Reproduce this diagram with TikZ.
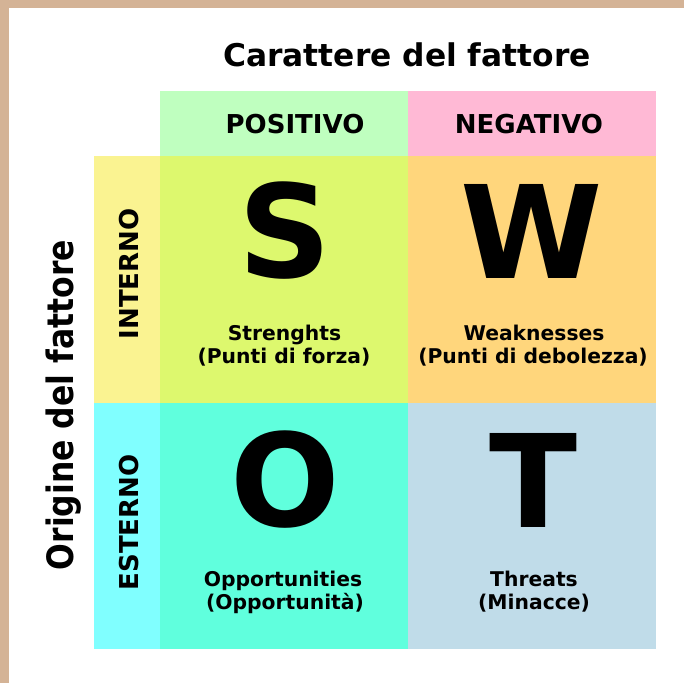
\documentclass[tikz,border=0pt]{standalone}
\usepackage{fontspec}
\setmainfont{DejaVu Sans}
\usepackage{graphicx}
\definecolor{frame}{RGB}{212,179,150}
\definecolor{cPos}{RGB}{191,255,191}
\definecolor{cNeg}{RGB}{255,185,213}
\definecolor{cInt}{RGB}{250,243,145}
\definecolor{cS}{RGB}{221,248,110}
\definecolor{cW}{RGB}{255,214,124}
\definecolor{cEst}{RGB}{128,255,255}
\definecolor{cO}{RGB}{96,255,221}
\definecolor{cT}{RGB}{192,220,233}
\begin{document}
\begin{tikzpicture}[x=1pt,y=-1pt,
  cell/.style={rectangle, draw=none, inner sep=0pt, outer sep=0pt, anchor=north west},
  bigletter/.style={font=\fontsize{129}{129}\selectfont\bfseries, inner sep=0pt, anchor=base},
  subtext/.style={font=\fontsize{20.3}{23}\selectfont\bfseries, inner sep=0pt, anchor=base},
  hdr/.style={font=\fontsize{26}{26}\selectfont\bfseries, inner sep=0pt, anchor=base}]
\useasboundingbox (0,0) rectangle (684,683);
\fill[frame] (0,0) rectangle (684,683);
\fill[white] (9,8) rectangle (684,683);
% header cells
\node[cell, fill=cPos, minimum width=248pt, minimum height=65pt] (hpos) at (160,90.5) {};
\node[cell, fill=cNeg, minimum width=247.5pt, minimum height=65pt] (hneg) at (408,90.5) {};
% left label cells
\node[cell, fill=cInt, minimum width=66pt, minimum height=247pt] (lint) at (94,155.5) {};
\node[cell, fill=cEst, minimum width=66pt, minimum height=246pt] (lest) at (94,402.5) {};
% quadrant cells
\node[cell, fill=cS, minimum width=248pt, minimum height=247pt] (qs) at (160,155.5) {};
\node[cell, fill=cW, minimum width=247.5pt, minimum height=247pt] (qw) at (408,155.5) {};
\node[cell, fill=cO, minimum width=248pt, minimum height=246pt] (qo) at (160,402.5) {};
\node[cell, fill=cT, minimum width=247.5pt, minimum height=246pt] (qt) at (408,402.5) {};
% titles
\node[font=\fontsize{31.3}{31.3}\selectfont\bfseries, inner sep=0pt, anchor=base] (title) at (407,66) {Carattere del fattore};
\node[rotate=90, inner sep=0pt, anchor=base] (orig) at (73,405) {\resizebox{330pt}{27.6pt}{\bfseries Origine del fattore}};
% headers
\node[hdr] (tpos) at (295,133.6) {POSITIVO};
\node[hdr] (tneg) at (529,133.6) {NEGATIVO};
\node[hdr, rotate=90] (tint) at (138,274) {INTERNO};
\node[hdr, rotate=90] (test) at (138,522.5) {ESTERNO};
% big letters
\node[bigletter] (ls) at (284.5,277.5) {S};
\node[bigletter] (lw) at (532,278) {W};
\node[bigletter] (lo) at (285,526.5) {O};
\node[bigletter] (lt) at (533.5,527) {T};
% sub texts
\node[subtext] (s1) at (284.5,340) {Strenghts};
\node[subtext] (s2) at (284,363) {(Punti di forza)};
\node[subtext] (w1) at (534,340) {Weaknesses};
\node[subtext] (w2) at (533,363) {(Punti di debolezza)};
\node[subtext] (o1) at (283,586.5) {Opportunities};
\node[subtext] (o2) at (285,609.5) {(Opportunità)};
\node[subtext] (t1) at (534,586.5) {Threats};
\node[subtext] (t2) at (534,609.5) {(Minacce)};
\end{tikzpicture}
\end{document}
